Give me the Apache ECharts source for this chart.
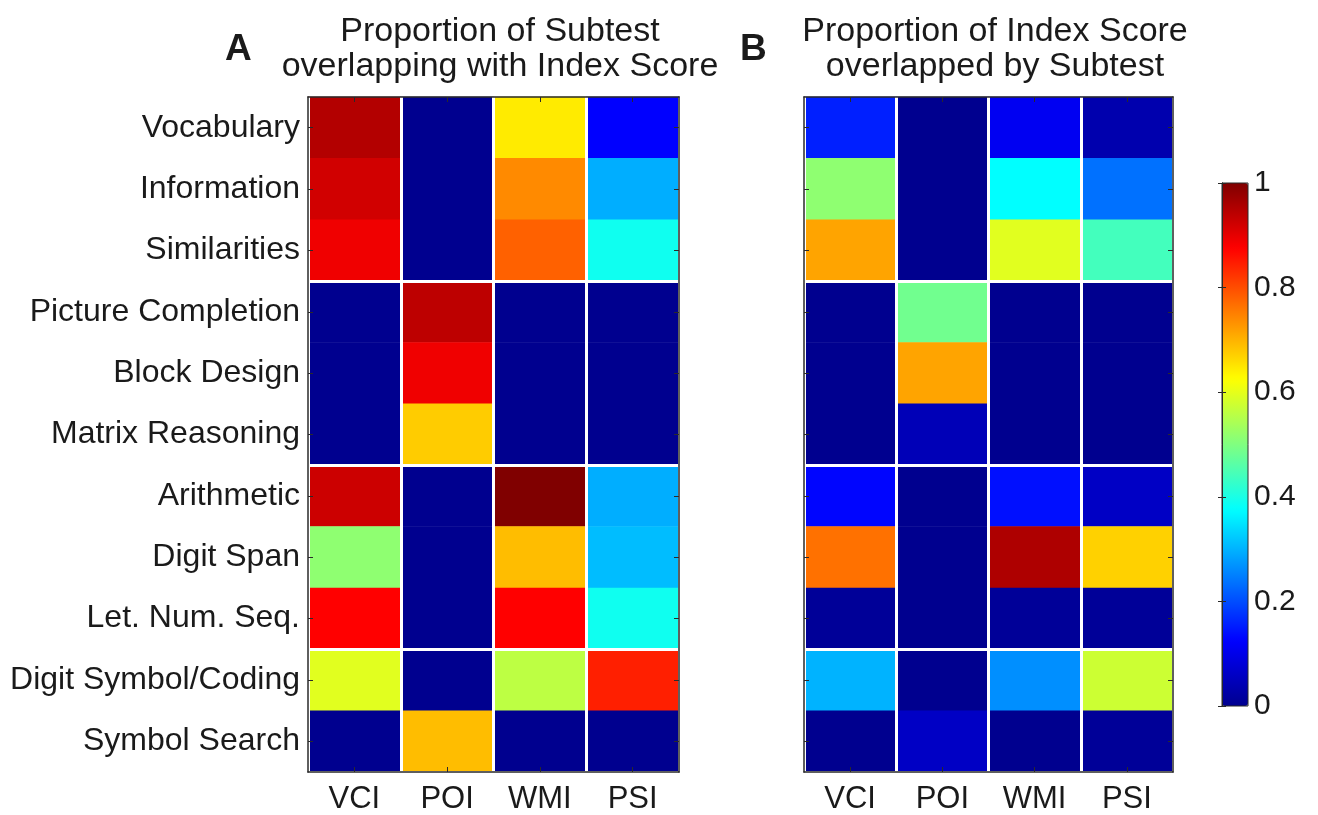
<!DOCTYPE html>
<html>
<head>
<meta charset="utf-8">
<script src="https://cdn.jsdelivr.net/npm/echarts@6/dist/echarts.min.js"></script>
<style>
html,body{margin:0;padding:0;background:#fff;}
#chart{width:1318px;height:815px;}
</style>
</head>
<body>
<div id="chart"></div>
<script>
// ---- data ----
const subtests = ['Vocabulary','Information','Similarities','Picture Completion','Block Design','Matrix Reasoning','Arithmetic','Digit Span','Let. Num. Seq.','Digit Symbol/Coding','Symbol Search'];
const indexScores = ['VCI','POI','WMI','PSI'];

// Panel A: proportion of subtest overlapping with index score (one array per index column)
const A_VCI = [0.95, 0.92, 0.89, 0, 0, 0, 0.925, 0.515, 0.875, 0.595, 0];
const A_POI = [0, 0, 0, 0.94, 0.89, 0.675, 0, 0, 0, 0, 0.69];
const A_WMI = [0.645, 0.74, 0.78, 0, 0, 0, 1.0, 0.69, 0.875, 0.56, 0];
const A_PSI = [0.125, 0.295, 0.39, 0, 0, 0, 0.295, 0.31, 0.39, 0.845, 0];

// Panel B: proportion of index score overlapped by subtest
const B_VCI = [0.155, 0.515, 0.715, 0, 0, 0, 0.13, 0.765, 0.01, 0.30, 0];
const B_POI = [0, 0, 0, 0.485, 0.715, 0.045, 0, 0, 0, 0, 0.06];
const B_WMI = [0.11, 0.375, 0.595, 0, 0, 0, 0.14, 0.955, 0.01, 0.265, 0];
const B_PSI = [0.035, 0.235, 0.44, 0, 0, 0, 0.06, 0.67, 0.01, 0.575, 0.01];

const colorbarTicks = [0, 0.2, 0.4, 0.6, 0.8, 1];
const groupStarts = [3, 6, 9];

// ---- build ----
function cells(cols) {
  const out = [];
  cols.forEach((col, xi) => col.forEach((v, yi) => out.push([xi, yi, v])));
  return out;
}
const dataA = cells([A_VCI, A_POI, A_WMI, A_PSI]);
const dataB = cells([B_VCI, B_POI, B_WMI, B_PSI]);

const FONT = '"Liberation Sans", Arial, Helvetica, sans-serif';
const TXT = '#1a1a1a';
const FRAME = '#2a2a2a';
const jet = ['#00008F','#0000FF','#0080FF','#00FFFF','#80FF80','#FFFF00','#FF8000','#FF0000','#800000'];

function catX(gridIndex, pos, showLabel) {
  return {
    type: 'category', gridIndex, position: pos, data: indexScores, z: 10,
    axisLine: { show: true, onZero: false, lineStyle: { color: FRAME, width: 1.5 } },
    axisTick: { show: true, inside: true, alignWithLabel: true, interval: 0, length: 5, lineStyle: { color: FRAME } },
    axisLabel: { show: showLabel, interval: 0, margin: 12, fontSize: 31, color: TXT, fontFamily: FONT },
    splitLine: { show: pos === 'bottom', interval: 0, lineStyle: { color: '#ffffff', width: 3 } }
  };
}
function catY(gridIndex, pos, showLabel) {
  return {
    type: 'category', gridIndex, position: pos, data: subtests, inverse: true, z: 10,
    axisLine: { show: true, onZero: false, lineStyle: { color: FRAME, width: 1.5 } },
    axisTick: { show: true, inside: true, alignWithLabel: true, interval: 0, length: 5, lineStyle: { color: FRAME } },
    axisLabel: { show: showLabel, interval: 0, margin: 8, fontSize: 32, color: TXT, fontFamily: FONT },
    splitLine: {
      show: pos === 'left', interval: (idx) => groupStarts.indexOf(idx) >= 0,
      lineStyle: { color: '#ffffff', width: 3 }
    }
  };
}

const option = {
  backgroundColor: '#ffffff',
  animation: false,
  title: [
    { text: 'A', left: 220, top: 26, textStyle: { fontSize: 37, fontWeight: 'bold', color: TXT, fontFamily: FONT } },
    { text: 'Proportion of Subtest\noverlapping with Index Score', left: 495, top: 9, textAlign: 'center',
      textStyle: { fontSize: 34, lineHeight: 35, fontWeight: 'normal', color: TXT, fontFamily: FONT } },
    { text: 'B', left: 735, top: 26, textStyle: { fontSize: 37, fontWeight: 'bold', color: TXT, fontFamily: FONT } },
    { text: 'Proportion of Index Score\noverlapped by Subtest', left: 990, top: 9, textAlign: 'center',
      textStyle: { fontSize: 34, lineHeight: 35, fontWeight: 'normal', color: TXT, fontFamily: FONT } }
  ],
  grid: [
    { left: 308, top: 97, width: 371, height: 676 },
    { left: 804, top: 97, width: 369, height: 676 },
    { left: 1222, top: 183, width: 26, height: 523, z: 10, show: true, borderColor: FRAME, borderWidth: 1, backgroundColor: 'transparent' }
  ],
  xAxis: [
    catX(0, 'bottom', true), catX(0, 'top', false),
    catX(1, 'bottom', true), catX(1, 'top', false),
    { type: 'value', gridIndex: 2, min: 0, max: 1, show: false }
  ],
  yAxis: [
    catY(0, 'left', true), catY(0, 'right', false),
    catY(1, 'left', false), catY(1, 'right', false),
    { type: 'value', gridIndex: 2, min: 0, max: 1, interval: 0.2, position: 'right', z: 10,
      axisLine: { show: true, lineStyle: { color: FRAME, width: 1 } },
      axisTick: { show: true, inside: true, length: 4, lineStyle: { color: FRAME } },
      axisLabel: { show: true, margin: 6, fontSize: 30, color: TXT, fontFamily: FONT,
        formatter: (v) => (colorbarTicks.indexOf(Math.round(v * 10) / 10) >= 0 ? String(Math.round(v * 10) / 10) : '') },
      splitLine: { show: false } },
    { type: 'value', gridIndex: 2, min: 0, max: 1, interval: 0.2, position: 'left', z: 10,
      axisLine: { show: true, lineStyle: { color: FRAME, width: 1 } },
      axisTick: { show: true, inside: true, length: 4, lineStyle: { color: FRAME } },
      axisLabel: { show: false }, splitLine: { show: false } }
  ],
  visualMap: {
    type: 'continuous', min: 0, max: 1, seriesIndex: [0, 1], calculable: false, z: 1,
    left: 1222, top: 183, itemWidth: 26, itemHeight: 523, padding: 0, text: null,
    showLabel: false, hoverLink: false,
    inRange: { color: jet }
  },
  series: [
    { type: 'heatmap', xAxisIndex: 0, yAxisIndex: 0, data: dataA, itemStyle: { borderWidth: 0 } },
    { type: 'heatmap', xAxisIndex: 2, yAxisIndex: 2, data: dataB, itemStyle: { borderWidth: 0 } }
  ]
};

const chart = echarts.init(document.getElementById('chart'), null, { renderer: 'canvas' });
chart.setOption(option);
</script>
</body>
</html>
